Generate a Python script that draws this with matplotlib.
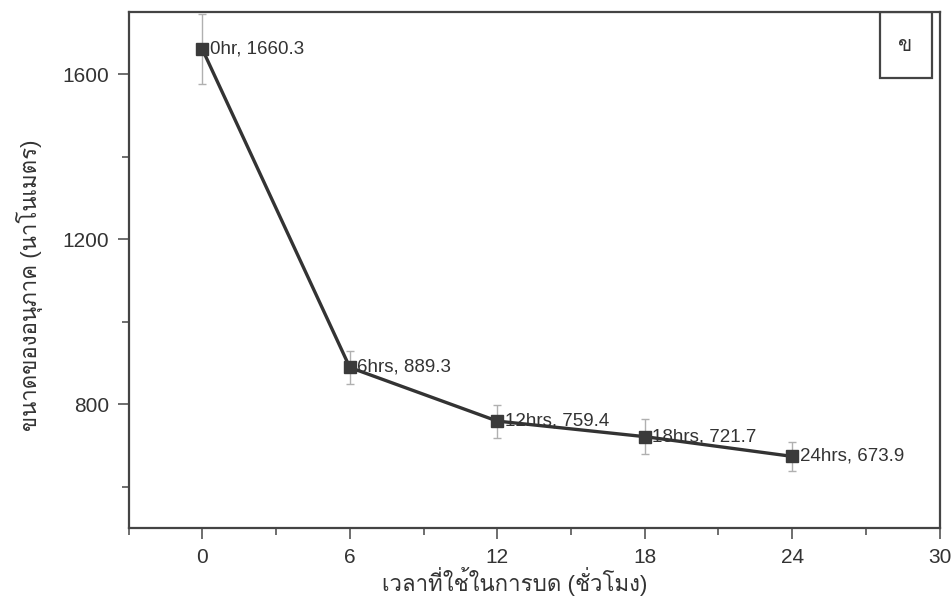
import matplotlib
matplotlib.use("Agg")
import matplotlib.pyplot as plt
from matplotlib import font_manager
from matplotlib.ft2font import FT2Font
from matplotlib.patches import Rectangle
from matplotlib.ticker import MultipleLocator

hours = [0, 6, 12, 18, 24]
size_nm = [1660.3, 889.3, 759.4, 721.7, 673.9]
size_err = [85, 40, 40, 43, 35]
point_labels = ["0hr, 1660.3", "6hrs, 889.3", "12hrs, 759.4", "18hrs, 721.7", "24hrs, 673.9"]
x_ticks = [0, 6, 12, 18, 24, 30]
y_ticks = [800, 1200, 1600]
x_label = "เวลาที่ใช้ในการบด (ชั่วโมง)"
y_label = "ขนาดของอนุภาค (นาโนเมตร)"
panel_tag = "ข"

# find an installed font that covers Thai
thai_font = None
for f in font_manager.fontManager.ttflist:
    try:
        if 0x0E02 in FT2Font(f.fname).get_charmap():
            thai_font = f.name
            break
    except Exception:
        pass
families = ["Liberation Sans", "DejaVu Sans"]
if thai_font is not None:
    families.insert(1, thai_font)
plt.rcParams["font.family"] = families

ink = "#333333"
fig = plt.figure(figsize=(9.53, 6.12), dpi=100)
ax = fig.add_axes([0.135, 0.137, 0.851, 0.843])

ax.errorbar(hours, size_nm, yerr=size_err, fmt="none", ecolor="#b0b0b0",
            elinewidth=1, capsize=3, capthick=1, zorder=2)
ax.plot(hours, size_nm, color=ink, lw=2.4, marker="s", ms=8,
        mfc="#3a3a3a", mec="#3a3a3a", zorder=3)
for x, y, s in zip(hours, size_nm, point_labels):
    ax.annotate(s, (x, y), xytext=(5.5, 0), textcoords="offset points",
                va="center", ha="left", fontsize=13.5, color=ink, zorder=4)

ax.set_xlim(-3, 30)
ax.set_ylim(500, 1750)
ax.set_xticks(x_ticks)
ax.set_yticks(y_ticks)
ax.xaxis.set_minor_locator(MultipleLocator(3))
ax.yaxis.set_minor_locator(MultipleLocator(200))
ax.tick_params(which="both", direction="out", colors="#555555", labelcolor=ink,
               labelsize=15, width=1.2)
ax.tick_params(which="major", length=8, pad=6)
ax.tick_params(which="minor", length=5)
for sp in ax.spines.values():
    sp.set_color("#444444")
    sp.set_linewidth(1.6)

ax.set_xlabel(x_label, fontsize=16, color=ink)
ax.set_ylabel(y_label, fontsize=16, color=ink)
ax.xaxis.set_label_coords(0.476, -0.075)
ax.yaxis.set_label_coords(-0.105, 0.47)

ax.add_patch(Rectangle((0.926, 0.872), 0.064, 0.128, transform=ax.transAxes,
                       fill=False, ec="#444444", lw=1.6, zorder=5))
ax.text(0.958, 0.936, panel_tag, transform=ax.transAxes, ha="center",
        va="center", fontsize=15, color=ink)

fig.savefig("out.png", dpi=100)
